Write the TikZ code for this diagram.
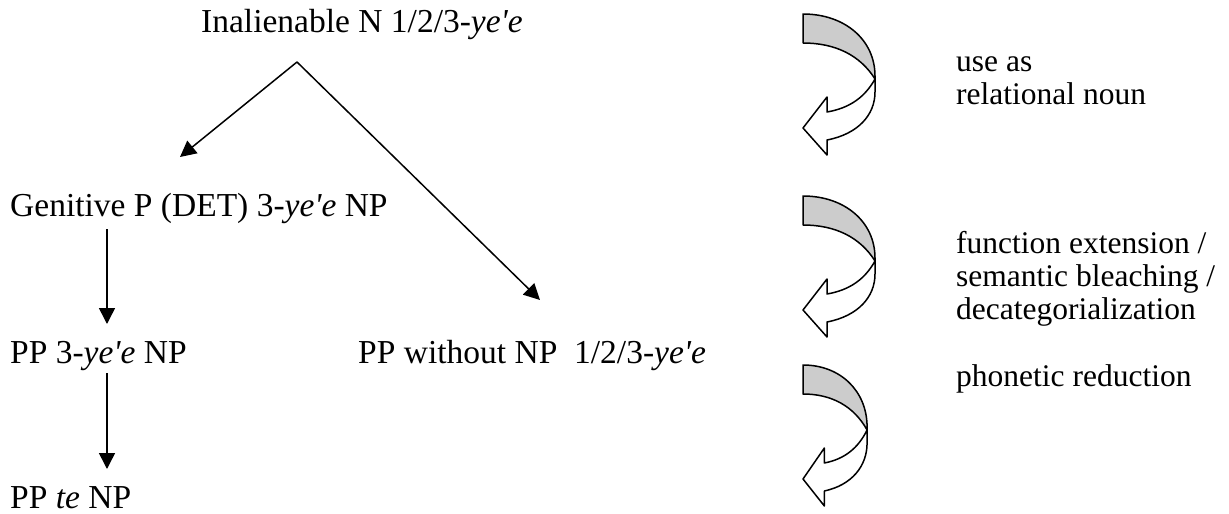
\documentclass[tikz,border=0pt]{standalone}
\usepackage{fontspec}
\newfontfamily\tnr{Liberation Serif}
\usetikzlibrary{arrows.meta}
\begin{document}
\begin{tikzpicture}[x=1pt,y=-1pt,
  lbl/.style={anchor=base west, inner sep=0pt, font=\tnr\fontsize{33.5}{38}\selectfont},
  note/.style={anchor=base west, inner sep=0pt, font=\tnr\fontsize{31.5}{33}\selectfont, align=left},
  conn/.style={line width=1.5pt, -{Triangle[length=16pt,width=16pt]}},
  ribbon/.style={line width=1.5pt, line join=round},
  turnarrow/.pic={
    \filldraw[ribbon, fill=black!20] (0,0) .. controls (42,0) and (72,26) .. (72,62) -- (72,65)
      .. controls (57,41) and (32,29) .. (0,29) -- cycle;
    \filldraw[ribbon, fill=white] (72,65) .. controls (62,83) and (47,94) .. (24,98) -- (24,83)
      -- (0,114) -- (24,141) -- (24,126) .. controls (55,120) and (72,101) .. (72,78) -- cycle;
  }]
\useasboundingbox (0,0) rectangle (1229,514);

% left texts
\node[lbl] (inal) at (201,32) {Inalienable N 1/2/3-\textit{ye'e}};
\node[lbl] (gen) at (10,216) {Genitive P (DET) 3-\textit{ye'e} NP};
\node[lbl] (pp3) at (10,363) {PP 3-\textit{ye'e} NP};
\node[lbl] (ppw) at (358,363) {PP without NP\ \ 1/2/3-\textit{ye'e}};
\node[lbl] (ppte) at (10,508) {PP \textit{te} NP};

% right texts (anchor = baseline of the last line)
\node[note] (use) at (956,104) {use as\\relational noun};
\node[note] (func) at (956,319) {function extension /\\semantic bleaching /\\decategorialization};
\node[note] (phon) at (956,386) {phonetic reduction};

% connectors
\coordinate (apex) at (297,62);
\coordinate (gtip) at (180,157);
\coordinate (wtip) at (540,300);
\coordinate (v1a) at (107,229);
\coordinate (v1b) at (107,324);
\coordinate (v2a) at (107,373);
\coordinate (v2b) at (107,469);
\draw[conn] (apex) -- (gtip);
\draw[conn] (apex) -- (wtip);
\draw[conn] (v1a) -- (v1b);
\draw[conn] (v2a) -- (v2b);

% turning arrows
\pic at (803,14) {turnarrow};
\pic at (803,196) {turnarrow};
\pic[xscale=0.89] at (803,365) {turnarrow};
\end{tikzpicture}
\end{document}
